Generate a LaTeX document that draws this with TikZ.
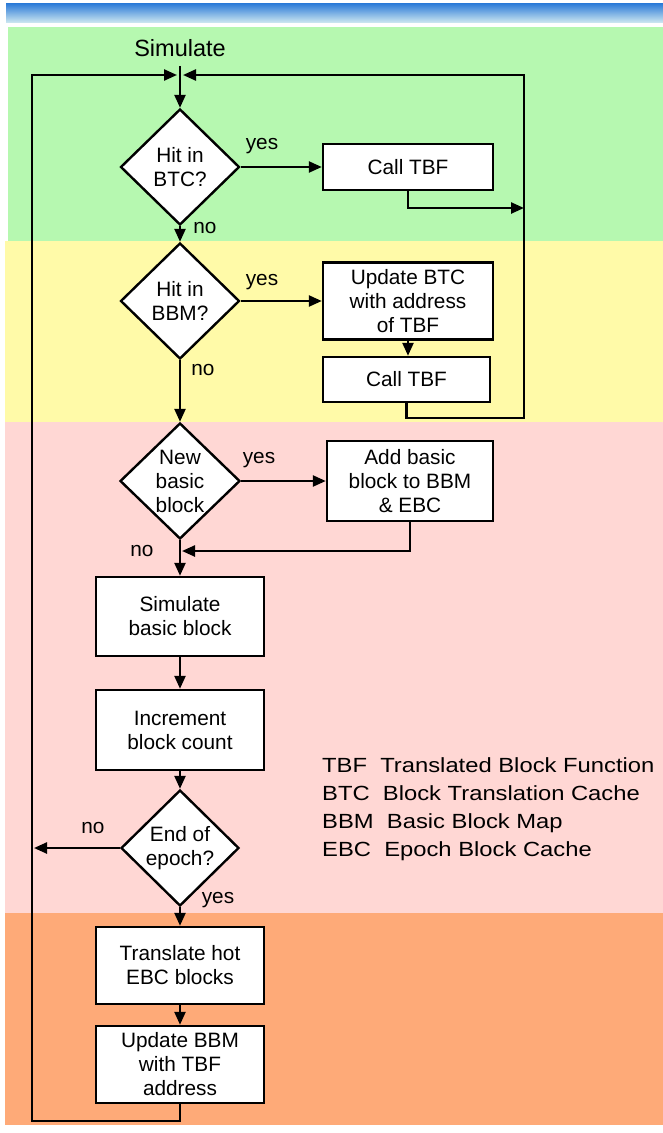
\documentclass[tikz,border=0pt]{standalone}
\usepackage{fontspec}
\setmainfont{Liberation Sans}
\newfontfamily\legendfont[FakeStretch=1.16]{Liberation Sans}
\usetikzlibrary{shapes.geometric,arrows.meta}
\definecolor{barblue}{RGB}{40,120,215}
\definecolor{barpale}{RGB}{200,228,240}
\definecolor{bggreen}{RGB}{182,248,176}
\definecolor{bgyellow}{RGB}{255,250,168}
\definecolor{bgpink}{RGB}{255,215,212}
\definecolor{bgorange}{RGB}{254,170,120}

\begin{document}
\begin{tikzpicture}
        [
        x=1pt, y=-1pt,
        every node/.style={font=\fontsize{20.8}{24}\selectfont},
        stepbox/.style={draw, line width=2.4pt, fill=white, minimum width=168pt, inner sep=0pt, align=center},
        decision/.style={diamond, draw, line width=2.4pt, fill=white, minimum width=119pt, minimum height=116pt, inner sep=0pt, align=center},
        flow/.style={line width=2.4pt, -{Triangle[length=13pt,width=11pt]}},
        answer/.style={inner sep=0pt},
        legend/.style={font=\legendfont\fontsize{20.5}{24}\selectfont, inner sep=0pt},
        ]
        \useasboundingbox (0,0) rectangle (663,1133);
        \fill[white] (0,0) rectangle (663,1133);
        \shade[top color=barblue, bottom color=barpale] (6,3) rectangle (663,22);
        \fill[bggreen] (8,27) rectangle (663,241);
        \fill[bgyellow] (5,241) rectangle (663,422);
        \fill[bgpink] (5,422) rectangle (663,913);
        \fill[bgorange] (5,913) rectangle (663,1125);

        \node[inner xsep=0pt, inner ysep=9pt, font=\fontsize{23.5}{26}\selectfont] (sim) at (180,48) {Simulate};
        \coordinate (merge) at (180,75);
        \node[decision] (hitbtc) at (180,167) {Hit in\\BTC?};
        \node[stepbox, minimum height=46pt, minimum width=170pt] (callA) at (408,167) {Call TBF};
        \node[decision] (hitbbm) at (180,301) {Hit in\\BBM?};
        \node[stepbox, minimum height=77pt, minimum width=170pt] (updbtc) at (408,301) {Update BTC\\with address\\of TBF};
        \node[stepbox, minimum height=45pt, minimum width=167pt] (callB) at (406.5,379.5) {Call TBF};
        \node[decision, minimum width=120pt] (newbb) at (180,481) {New\\basic\\block};
        \node[stepbox, minimum height=80pt, minimum width=166pt] (addbb) at (410,481) {Add basic\\block to BBM\\\& EBC};
        \node[stepbox, minimum height=79pt] (simbb) at (180,616.5) {Simulate\\basic block};
        \node[stepbox, minimum height=80pt] (incr) at (180,730) {Increment\\block count};
        \node[decision, minimum width=118pt] (endep) at (180,848) {End of\\epoch?};
        \node[stepbox, minimum height=77pt] (trans) at (180,965.5) {Translate hot\\EBC blocks};
        \node[stepbox, minimum height=77pt] (updbbm) at (180,1064.5) {Update BBM\\with TBF\\address};

        \coordinate (loopR) at (524,418);
        \coordinate (joinR) at (524,208);
        \coordinate (joinM) at (182,551);
        \coordinate (loopL) at (32,1121);
        \coordinate (joinL) at (34,848);

        \draw[flow] (sim) -- (hitbtc);
        \draw[flow] (hitbtc) -- (callA);
        \node[answer] (yesA) at (262,146) {yes};
        \draw[flow] (callA.south) |- (joinR);
        \draw[flow] (hitbtc) -- (hitbbm);
        \node[answer] (noA) at (205,228) {no};
        \draw[flow] (hitbbm) -- (updbtc);
        \node[answer] (yesB) at (262,282) {yes};
        \draw[flow] (updbtc.south) -- (updbtc.south |- callB.north);
        \draw[flow] (callB.south) |- (loopR) |- ([xshift=3pt]merge);
        \draw[flow] (hitbbm) -- (newbb);
        \node[answer] (noB) at (203,370) {no};
        \draw[flow] (newbb) -- (addbb);
        \node[answer] (yesC) at (259,460) {yes};
        \draw[flow] (addbb.south) |- (joinM);
        \node[answer] (noC) at (142,551) {no};
        \draw[flow] (newbb) -- (simbb);
        \draw[flow] (simbb) -- (incr);
        \draw[flow] (incr) -- (endep);
        \draw[flow] (endep) -- (trans);
        \node[answer] (yesD) at (218,900) {yes};
        \draw[flow] (endep) -- (joinL);
        \node[answer] (noD) at (93,828) {no};
        \draw[flow] (trans) -- (updbbm);
        \draw[flow] (updbbm.south) |- (loopL) |- ([xshift=-3pt]merge);

        \foreach \abbr/\full [count=\i] in {TBF/Translated Block Function, BTC/Block Translation Cache, BBM/Basic Block Map, EBC/Epoch Block Cache}
                \node[legend, anchor=base west] (leg\i) at (322,{744+28*\i}) {\abbr~~\full};
\end{tikzpicture}
\end{document}
